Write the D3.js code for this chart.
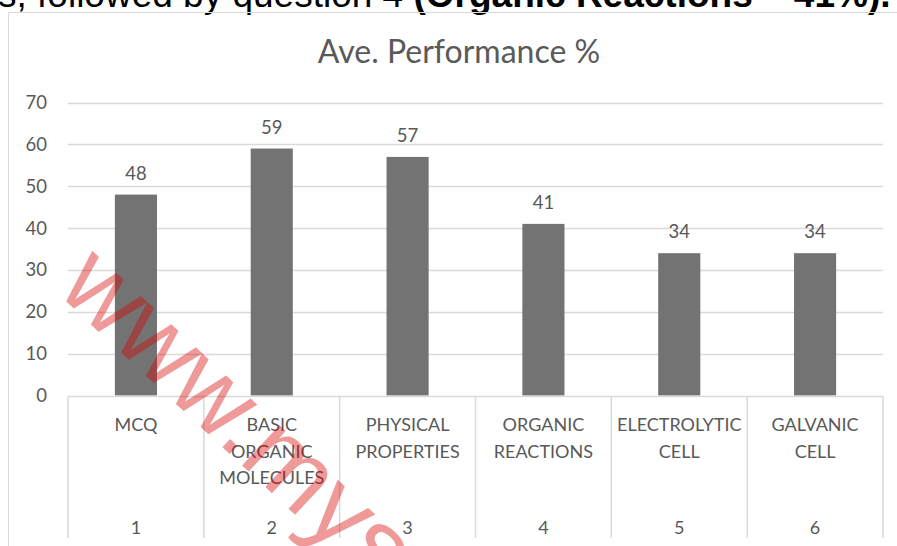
<!DOCTYPE html>
<html>
<head>
<meta charset="utf-8">
<script src="https://cdn.jsdelivr.net/npm/d3@7"></script>
<style>
  body { margin: 0; background: #fff; }
  svg { display: block; }
</style>
</head>
<body>
<div id="chart"></div>
<script>
const W = 897, H = 546;

const questions = ["1", "2", "3", "4", "5", "6"];
const topics = [
  ["MCQ"],
  ["BASIC", "ORGANIC", "MOLECULES"],
  ["PHYSICAL", "PROPERTIES"],
  ["ORGANIC", "REACTIONS"],
  ["ELECTROLYTIC", "CELL"],
  ["GALVANIC", "CELL"]
];
const performance = [48, 59, 57, 41, 34, 34];
const yTicks = [0, 10, 20, 30, 40, 50, 60, 70];

const font = "Lato, 'Open Sans', sans-serif";
const textColor = "#595959";
const gridColor = "#d9d9d9";

const svg = d3.select("#chart").append("svg")
  .attr("width", W).attr("height", H);

// cut-off line of text above the chart
const lead = svg.append("text")
  .attr("x", -2).attr("y", 7)
  .attr("font-family", "'Liberation Sans', Arial, sans-serif")
  .attr("font-size", 37)
  .attr("fill", "#000");
lead.append("tspan").text("s, followed by question 4 ");
lead.append("tspan").attr("font-weight", "bold").text("(Organic Reactions – 41%).");

// chart frame
svg.append("path")
  .attr("d", `M8.5,${H} V12.5 H${W}`)
  .attr("fill", "none").attr("stroke", gridColor).attr("stroke-width", 1);

svg.append("text")
  .attr("x", 459).attr("y", 63)
  .attr("text-anchor", "middle")
  .attr("font-family", font).attr("font-size", 32)
  .attr("fill", textColor)
  .text("Ave. Performance %");

const margin = { left: 68, right: 14, top: 102.5, bottom: 150.5 };
const x = d3.scaleBand()
  .domain(questions)
  .range([margin.left, W - margin.right])
  .paddingInner(0.69).paddingOuter(0.345);
const y = d3.scaleLinear()
  .domain([0, 70])
  .range([H - margin.bottom, margin.top]);

// gridlines
svg.append("g")
  .selectAll("line")
  .data(yTicks.slice(1))
  .join("line")
  .attr("x1", margin.left).attr("x2", W - margin.right)
  .attr("y1", d => Math.round(y(d)) + 0.5).attr("y2", d => Math.round(y(d)) + 0.5)
  .attr("stroke", gridColor).attr("stroke-width", 1.5);

// y labels
svg.append("g")
  .selectAll("text")
  .data(yTicks)
  .join("text")
  .attr("x", 47).attr("y", d => y(d) + 6.5)
  .attr("text-anchor", "end")
  .attr("font-family", font).attr("font-size", 18.5)
  .attr("fill", textColor)
  .text(d => d);

// bars
svg.append("g")
  .selectAll("rect")
  .data(performance)
  .join("rect")
  .attr("x", (d, i) => x(questions[i]))
  .attr("width", x.bandwidth())
  .attr("y", d => y(d))
  .attr("height", d => y(0) - y(d))
  .attr("fill", "#737373");

// value labels
svg.append("g")
  .selectAll("text")
  .data(performance)
  .join("text")
  .attr("x", (d, i) => x(questions[i]) + x.bandwidth() / 2)
  .attr("y", d => y(d) - 15)
  .attr("text-anchor", "middle")
  .attr("font-family", font).attr("font-size", 18.5)
  .attr("fill", textColor)
  .text(d => d);

// two-level category axis
const step = x.step();
const axisY = Math.round(y(0)) + 0.5;
const axisBottom = 538;
const cat = svg.append("g");
cat.append("line")
  .attr("x1", margin.left).attr("x2", W - margin.right)
  .attr("y1", axisY).attr("y2", axisY)
  .attr("stroke", gridColor).attr("stroke-width", 1.5);
cat.selectAll("line.sep")
  .data(d3.range(questions.length + 1))
  .join("line")
  .attr("class", "sep")
  .attr("x1", i => margin.left + i * step).attr("x2", i => margin.left + i * step)
  .attr("y1", axisY).attr("y2", axisBottom)
  .attr("stroke", gridColor).attr("stroke-width", 1.5);

topics.forEach((lines, i) => {
  const cx = x(questions[i]) + x.bandwidth() / 2;
  lines.forEach((t, j) => {
    cat.append("text")
      .attr("x", cx).attr("y", 431 + j * 26.5)
      .attr("text-anchor", "middle")
      .attr("font-family", font).attr("font-size", 18)
      .attr("fill", textColor)
      .text(t);
  });
  cat.append("text")
    .attr("x", cx).attr("y", 534)
    .attr("text-anchor", "middle")
    .attr("font-family", font).attr("font-size", 18)
    .attr("fill", textColor)
    .text(questions[i]);
});

// watermark
svg.append("text")
  .attr("transform", "translate(55,291) rotate(43)")
  .attr("font-family", "'Liberation Sans', Arial, sans-serif")
  .attr("font-size", 104)
  .attr("fill", "rgba(215,0,0,0.4)")
  .text("www.mys");
</script>
</body>
</html>
